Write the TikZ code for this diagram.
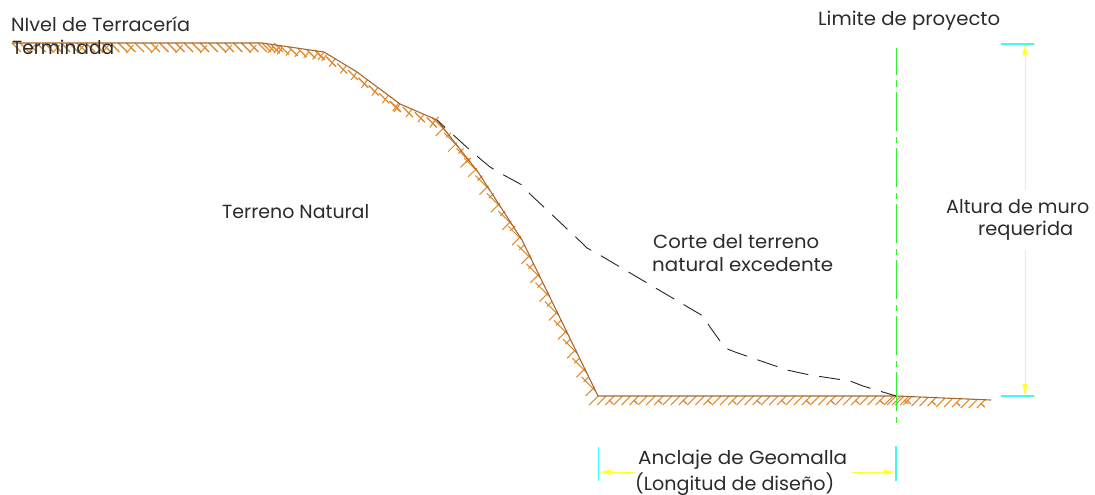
\documentclass[tikz,border=0pt]{standalone}
\usepackage{fontspec}
\usepackage{graphicx}
\setmainfont{Poppins}
\usetikzlibrary{calc,arrows.meta}
\definecolor{earth}{HTML}{A8682C}
\definecolor{hatchc}{HTML}{DE8A32}
\definecolor{dimy}{HTML}{FFFF33}
\definecolor{dimc}{HTML}{40F8F8}
\definecolor{limg}{HTML}{33F033}
\definecolor{inkc}{HTML}{2B2B2B}
\tikzset{
  x=1pt,y=-1pt,
  label text/.style={font=\fontsize{19}{22}\selectfont,text=inkc,anchor=base west,inner sep=0pt},
  ground/.style={draw=earth,line width=1.1pt,line join=round},
  hatch/.style={draw=hatchc,line width=1.05pt},
  hatchb/.style={draw=hatchc,line width=1.35pt},
  cut/.style={draw=black!85,line width=0.9pt,dash pattern=on 21pt off 11pt,dash phase=10pt,line join=round},
  limit/.style={draw=limg,line width=1.1pt,dash pattern=on 39pt off 5.5pt on 6pt off 5.5pt,dash phase=12pt},
  dimline/.style={draw=dimy,line width=1pt},
  dimarrow/.style={dimline,-{Triangle[length=12pt,width=5pt,fill=dimy]}},
  dimtick/.style={draw=dimc,line width=1.7pt}
}
\newcommand{\fitw}[2]{\resizebox{#1pt}{\height}{#2}}
\newcommand{\hatchalong}[4]{%
  \path let \p1=($(#2)-(#1)$),\n1={veclen(\x1,\y1)} in \pgfextra{\xdef\seglen{\n1}};%
  \pgfmathsetmacro{\nunits}{int(floor(\seglen/#3))}%
  \foreach \k in {0,...,\nunits}{%
    \pgfmathsetmacro{\dd}{\k*#3}%
    \ifdim\dd pt<\seglen\relax
      \coordinate (hp) at ($(#1)!\dd pt!(#2)$);#4%
    \fi}%
}
\newcommand{\unittop}{%
  \draw[hatchb] (hp) -- ++(9,9)
   ($(hp)+(8,0)$) -- ++(9,9)
   ($(hp)+(16,0)$) -- ++(9,9);
  \draw[hatch] ($(hp)+(16,10)$) -- ++(7,-8);}
\newcommand{\unitbot}{%
  \draw[hatch] (hp) -- ++(-9,9)
   ($(hp)+(8,0)$) -- ++(-9,9)
   ($(hp)+(16,0)$) -- ++(-9,9);
  \draw[hatchb] ($(hp)+(11,4)$) -- ++(4,4);}
\newcommand{\unitslope}{%
  \draw[hatch] (hp) -- ++(-14,-14);
  \draw[hatch] ($(hp)+(-1,-4)$) -- ++(-9,9)
   ($(hp)+(-7,-14)$) -- ++(-5,5);}
\newcommand{\unitsoft}{%
  \draw[hatch] (hp) -- ++(-6,8);
  \draw[hatchb] ($(hp)+(-9,-2)$) -- ++(10,10);}
\newcommand{\unitease}{%
  \draw[hatchb] (hp) -- ++(9,9);
  \draw[hatch] ($(hp)+(6,10)$) -- ++(5,-6);}
\begin{document}
\begin{tikzpicture}
\useasboundingbox (0,0) rectangle (1095,495);
\coordinate (g0) at (12,43);
\coordinate (g1) at (262,43);
\coordinate (g2) at (324,52);
\coordinate (g3) at (357,72);
\coordinate (g4) at (400,104);
\coordinate (g5) at (437,120);
\coordinate (g6) at (478,172);
\coordinate (g7) at (522,240);
\coordinate (g8) at (598,396);
\coordinate (g9) at (896,396);
\coordinate (g10) at (991,400);
\coordinate (g5a) at ($(g5)!14pt!(g6)$);
\hatchalong{g0}{g1}{24.6}{\unittop}
\hatchalong{g1}{g2}{9}{\unitease}
\hatchalong{g2}{g3}{13}{\unitsoft}
\hatchalong{g3}{g4}{13}{\unitsoft}
\hatchalong{g4}{g5}{13}{\unitsoft}
\hatchalong{g5a}{g6}{20}{\unitslope}
\hatchalong{g6}{g7}{21}{\unitslope}
\hatchalong{g7}{g8}{21}{\unitslope}
\hatchalong{g8}{g9}{24.6}{\unitbot}
\hatchalong{g9}{g10}{24.6}{\unitbot}
\draw[ground] (g0)--(g1)--(g2)--(g3)--(g4)--(g5)--(g6)--(g7)--(g8)--(g9)--(g10);
\draw[cut] (g5)--(472,152)--(490,167)--(500,173)--(522,185)--(530,194)--(582,243)--(587,248)--(598,254)--(703,316)--(710,327)--(725,348)--(735,352)--(787,370)--(810,375)--(850,381)--(863,386)--(g9);
\coordinate (l0) at (896.5,48);
\coordinate (l1) at (896.5,423);
\draw[limit] (l0)--(l1);
\coordinate (ht1) at (1001,44);
\coordinate (ht2) at (1034,44);
\coordinate (hb1) at (1001,396);
\coordinate (hb2) at (1034,396);
\draw[dimtick] (hb1)--(hb2);
\draw[dimtick] (ht1)--(ht2);
\coordinate (ha) at (1025,43.5);
\coordinate (hb) at (1025,396);
\coordinate (hag) at (1025,190);
\coordinate (hbg) at (1025,250);
\draw[dimarrow] (hag)--(ha);
\draw[dimarrow] (hbg)--(hb);
\coordinate (wl1) at (598.5,447);
\coordinate (wl2) at (598.5,481);
\coordinate (wr1) at (896,446);
\coordinate (wr2) at (896,481);
\draw[dimtick] (wl1)--(wl2);
\draw[dimtick] (wr1)--(wr2);
\coordinate (da) at (599,472);
\coordinate (db) at (635,472);
\coordinate (dc) at (852,472);
\coordinate (dd) at (895.5,472);
\draw[dimarrow] (db)--(da);
\draw[dimarrow] (dc)--(dd);
\node[label text] (t1) at (11,32) {\fitw{179}{NIvel de Terracería}};
\node[label text] (t2) at (12,55) {\fitw{102}{Terminada}};
\node[label text] (t3) at (818,26) {\fitw{182}{Limite de proyecto}};
\node[label text] (t4) at (222,218) {\fitw{147}{Terreno Natural}};
\node[label text] (t5) at (653,248) {\fitw{166}{Corte del terreno}};
\node[label text] (t6) at (652,271) {\fitw{181}{natural excedente}};
\node[label text] (t7) at (946,213) {\fitw{143}{Altura de muro}};
\node[label text] (t8) at (978,235) {\fitw{95}{requerida}};
\node[label text] (t9) at (638,464) {\fitw{209}{Anclaje de Geomalla}};
\node[label text] (t10) at (635,490) {\fitw{199}{(Longitud de diseño)}};
\end{tikzpicture}
\end{document}
